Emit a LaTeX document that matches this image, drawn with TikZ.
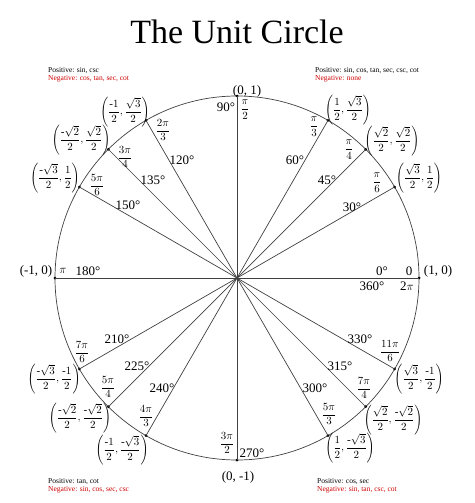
\documentclass[tikz,border=0pt]{standalone}
\usepackage{fontspec}
\setmainfont{Liberation Serif}
\usetikzlibrary{calc}
\newcommand{\ufr}[2]{\displaystyle\frac{#1}{#2}}
\newcommand{\ucd}[4]{$\displaystyle\left(\frac{#1}{#2},\frac{#3}{#4}\right)$}
\begin{document}
\begin{tikzpicture}[x=1pt,y=-1pt,
  ln/.style={draw=black!75,line width=0.7pt},
  dot/.style={circle,fill=black,inner sep=0pt,minimum size=3pt},
  lab/.style={inner sep=0pt,font=\fontsize{13}{15}\selectfont},
  fr/.style={inner sep=0pt,font=\fontsize{11}{13}\selectfont},
  note/.style={inner sep=0pt,anchor=north west,align=left,font=\fontsize{7.5}{8.5}\selectfont}]
\useasboundingbox (0,0) rectangle (474,503);
\node[inner sep=0pt,font=\fontsize{34}{38}\selectfont] (title) at (237,32) {The Unit Circle};
\coordinate (O) at (237,278);
\draw[ln] (O) circle[radius=182pt];
\foreach \a in {0,30,45,60,90,120,135,150,180,210,225,240,270,300,315,330}
  \node[dot] (p\a) at ($(O)+(\a:182pt)$) {};
\foreach \a in {0,30,45,60,90,120,135,150,180,210,225,240,270,300,315,330}
  \draw[ln] (O) -- (p\a.center);
% degree labels
\node[lab] (d0) at (382,271) {0°};
\node[lab] (d360) at (372,286) {360°};
\node[lab] (d30) at (352,207) {30°};
\node[lab] (d45) at (327,180) {45°};
\node[lab] (d60) at (295,160) {60°};
\node[lab] (d90) at (226,107) {90°};
\node[lab] (d120) at (182,160) {120°};
\node[lab] (d135) at (153,180) {135°};
\node[lab] (d150) at (128,205) {150°};
\node[lab] (d180) at (88,271) {180°};
\node[lab] (d210) at (117,339) {210°};
\node[lab] (d225) at (137,366) {225°};
\node[lab] (d240) at (162,388) {240°};
\node[lab] (d270) at (252,453) {270°};
\node[lab] (d300) at (315,388) {300°};
\node[lab] (d315) at (340,366) {315°};
\node[lab] (d330) at (360,339) {330°};
% radian labels
\node[lab] (r0) at (409,271) {0};
\node[lab] (r2pi) at (407,286) {2$\pi$};
\node[fr] (r30) at (377,183) {$\ufr{\pi}{6}$};
\node[fr] (r45) at (349,150) {$\ufr{\pi}{4}$};
\node[fr] (r60) at (314,127) {$\ufr{\pi}{3}$};
\node[fr] (r90) at (245,110) {$\ufr{\pi}{2}$};
\node[fr] (r120) at (163,130) {$\ufr{2\pi}{3}$};
\node[fr] (r135) at (125,157) {$\ufr{3\pi}{4}$};
\node[fr] (r150) at (97,185) {$\ufr{5\pi}{6}$};
\node[lab] (r180) at (63,271) {$\pi$};
\node[fr] (r210) at (82,352) {$\ufr{7\pi}{6}$};
\node[fr] (r225) at (108,387) {$\ufr{5\pi}{4}$};
\node[fr] (r240) at (146,416) {$\ufr{4\pi}{3}$};
\node[fr] (r270) at (227,443) {$\ufr{3\pi}{2}$};
\node[fr] (r300) at (329,414) {$\ufr{5\pi}{3}$};
\node[fr] (r315) at (364,388) {$\ufr{7\pi}{4}$};
\node[fr] (r330) at (390,351) {$\ufr{11\pi}{6}$};
% coordinates
\node[lab] (c0) at (438,271) {(1, 0)};
\node[lab] (c90) at (247,91) {(0, 1)};
\node[lab] (c180) at (36,271) {(-1, 0)};
\node[lab] (c270) at (238,477) {(0, -1)};
\node[fr] (c30) at (419,178) {\ucd{\sqrt{3}}{2}{1}{2}};
\node[fr] (c45) at (392,141) {\ucd{\sqrt{2}}{2}{\sqrt{2}}{2}};
\node[fr] (c60) at (348,110) {\ucd{1}{2}{\sqrt{3}}{2}};
\node[fr] (c120) at (125,112) {\ucd{\mbox{-}1}{2}{\sqrt{3}}{2}};
\node[fr] (c135) at (81,140) {\ucd{\mbox{-}\sqrt{2}}{2}{\sqrt{2}}{2}};
\node[fr] (c150) at (55,178) {\ucd{\mbox{-}\sqrt{3}}{2}{1}{2}};
\node[fr] (c210) at (54,379) {\ucd{\mbox{-}\sqrt{3}}{2}{\mbox{-}1}{2}};
\node[fr] (c225) at (80,418) {\ucd{\mbox{-}\sqrt{2}}{2}{\mbox{-}\sqrt{2}}{2}};
\node[fr] (c240) at (122,450) {\ucd{\mbox{-}1}{2}{\mbox{-}\sqrt{3}}{2}};
\node[fr] (c300) at (350,448) {\ucd{1}{2}{\mbox{-}\sqrt{3}}{2}};
\node[fr] (c315) at (393,420) {\ucd{\sqrt{2}}{2}{\mbox{-}\sqrt{2}}{2}};
\node[fr] (c330) at (419,379) {\ucd{\sqrt{3}}{2}{\mbox{-}1}{2}};
% quadrant notes
\node[note] (q2) at (48,67) {Positive: sin, csc\\\textcolor{red!80!black}{Negative: cos, tan, sec, cot}};
\node[note] (q1) at (315,67) {Positive: sin, cos, tan, sec, csc, cot\\\textcolor{red!80!black}{Negative: none}};
\node[note] (q3) at (48,478) {Positive: tan, cot\\\textcolor{red!80!black}{Negative: sin, cos, sec, csc}};
\node[note] (q4) at (317,478) {Positive: cos, sec\\\textcolor{red!80!black}{Negative: sin, tan, csc, cot}};
\end{tikzpicture}
\end{document}
